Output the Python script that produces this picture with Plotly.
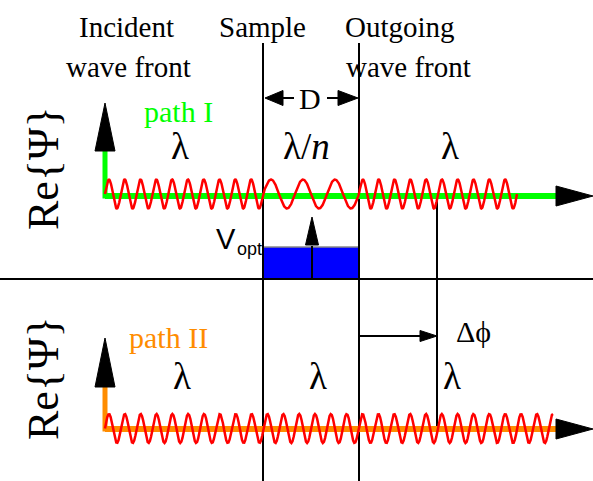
import numpy as np
import plotly.graph_objects as go

W, H = 593, 481

# ---------------- diagram geometry (pixel units, y downward) ----------------
sample_x = [263, 359]            # sample boundaries (wave fronts)
sample_y_span = [43, 481]
divider_y = 279
divider_x = [0, 593]
axis_x0 = 105
axis_x_end = 557
axis_tip_x = 593
top_axis_y = 196
bot_axis_y = 429
vert_arrow_top = [103, 338]      # tip of vertical arrows (top, bottom panel)
vert_arrow_base = [151, 387]
phase_line_x = 437
phase_line_y = [194, 428]
phase_arrow_y = 336

# waves: (x_start, x_end, period) segments
top_wave_segments = [(105, 263, 15.8), (263, 359, 32.0), (359, 517, 15.8)]
bot_wave_segments = [(105, 553, 15.85)]
wave_amp = 14.5
top_wave_center = 194
bot_wave_center = 428.5

# optical potential block
vopt_x = [263, 359]
vopt_y = [247, 279]
vopt_arrow_x = 312
vopt_arrow_tip = 217
vopt_arrow_base = 245

# D dimension arrows
d_y = 98
d_left = [265, 283, 294]   # tip, base, line end
d_right = [358, 338, 327]

GREEN = "#00FF00"
ORANGE = "#FF8C00"
RED = "#FF0000"
BLUE = "#0000FF"
SERIF = "Liberation Serif, Times New Roman, serif"
SANS = "Liberation Sans, Arial, sans-serif"

fig = go.Figure()


def line(xs, ys, color="black", width=2):
    fig.add_trace(go.Scatter(x=xs, y=ys, mode="lines",
                             line=dict(color=color, width=width),
                             hoverinfo="skip", showlegend=False))


def tri(xs, ys, color="black"):
    fig.add_trace(go.Scatter(x=list(xs) + [xs[0]], y=list(ys) + [ys[0]],
                             mode="lines", fill="toself", fillcolor=color,
                             line=dict(color=color, width=1),
                             hoverinfo="skip", showlegend=False))


def wave(segments, center):
    xs, ys = [], []
    phase = 0.0
    for (a, b, p) in segments:
        xx = np.linspace(a, b, 400)
        ph = phase + 2 * np.pi * (xx - a) / p
        xs.extend(xx.tolist())
        ys.extend((center - wave_amp * np.sin(ph)).tolist())
        phase = ph[-1]
    line(xs, ys, RED, 2.5)


# blue block
fig.add_trace(go.Scatter(x=[vopt_x[0], vopt_x[1], vopt_x[1], vopt_x[0], vopt_x[0]],
                         y=[vopt_y[0], vopt_y[0], vopt_y[1], vopt_y[1], vopt_y[0]],
                         mode="lines", fill="toself", fillcolor=BLUE,
                         line=dict(color=BLUE, width=0),
                         hoverinfo="skip", showlegend=False))
line(vopt_x, [vopt_y[0], vopt_y[0]], "#888888", 1.5)

# divider & sample boundaries
line(divider_x, [divider_y, divider_y], "black", 2)
for sx in sample_x:
    line([sx, sx], sample_y_span, "black", 2)

# phase shift markers
line([phase_line_x, phase_line_x], phase_line_y, "black", 2)
line([sample_x[1], 421], [phase_arrow_y, phase_arrow_y], "black", 2)
tri([phase_line_x, 420, 420], [phase_arrow_y, phase_arrow_y - 5.5, phase_arrow_y + 5.5])

# V_opt arrow
line([vopt_arrow_x, vopt_arrow_x], [divider_y, vopt_arrow_base + 1], "black", 2)
tri([vopt_arrow_x, vopt_arrow_x - 6.5, vopt_arrow_x + 6.5],
    [vopt_arrow_tip, vopt_arrow_base, vopt_arrow_base])

# D arrows
line([d_left[1], d_left[2]], [d_y, d_y], "black", 2)
tri([d_left[0], d_left[1], d_left[1]], [d_y, d_y - 7.5, d_y + 7.5])
line([d_right[1], d_right[2]], [d_y, d_y], "black", 2)
tri([d_right[0], d_right[1], d_right[1]], [d_y, d_y - 7.5, d_y + 7.5])

# axes
for ay, col, tip, base in [(top_axis_y, GREEN, vert_arrow_top[0], vert_arrow_base[0]),
                           (bot_axis_y, ORANGE, vert_arrow_top[1], vert_arrow_base[1])]:
    line([axis_x0, axis_x_end], [ay, ay], col, 6)
    line([axis_x0, axis_x0], [ay + 2.5, base], col, 5)
    tri([axis_x0, axis_x0 - 10, axis_x0 + 10], [tip, base, base])
    tri([axis_tip_x, axis_x_end - 1, axis_x_end - 1], [ay, ay - 10, ay + 10])

wave(top_wave_segments, top_wave_center)
wave(bot_wave_segments, bot_wave_center)

# ---------------- text ----------------
texts = [
    ("Incident", 126, 27, 29, "black", SERIF),
    ("wave front", 128, 67, 29, "black", SERIF),
    ("Sample", 262, 27, 29, "black", SERIF),
    ("Outgoing", 400, 27, 29, "black", SERIF),
    ("wave front", 408, 67, 29, "black", SERIF),
    ("D", 310, 98, 30, "black", SERIF),
    ("path I", 178, 111, 30, GREEN, SERIF),
    ("path II", 168, 337, 30, ORANGE, SERIF),
    ("λ", 180, 146, 37, "black", SERIF),
    ("λ/<i>n</i>", 306, 146, 37, "black", SERIF),
    ("λ", 450, 146, 37, "black", SERIF),
    ("λ", 182, 376, 37, "black", SERIF),
    ("λ", 318, 376, 37, "black", SERIF),
    ("λ", 452, 376, 37, "black", SERIF),
    ("Δϕ", 473, 331, 30, "black", SERIF),
]
annotations = []
for t, x, y, s, c, f in texts:
    annotations.append(dict(text=t, x=x, y=y, xref="x", yref="y", showarrow=False,
                            xanchor="center", yanchor="middle",
                            font=dict(family=f, size=s, color=c)))
for cy in [168, 378]:
    annotations.append(dict(text="Re{Ψ}", x=43, y=cy, xref="x", yref="y", showarrow=False,
                            textangle=-90, xanchor="center", yanchor="middle",
                            font=dict(family=SERIF, size=44, color="black")))
annotations.append(dict(text="V", x=238, y=239, xref="x", yref="y", showarrow=False,
                        xanchor="right", yanchor="middle",
                        font=dict(family=SANS, size=29, color="black")))
annotations.append(dict(text="opt", x=235, y=249, xref="x", yref="y", showarrow=False,
                        xanchor="left", yanchor="middle",
                        font=dict(family=SANS, size=18, color="black")))

fig.update_layout(
    width=W, height=H, margin=dict(l=0, r=0, t=0, b=0),
    paper_bgcolor="white", plot_bgcolor="white",
    xaxis=dict(range=[0, W], visible=False, fixedrange=True),
    yaxis=dict(range=[H, 0], visible=False, fixedrange=True),
    annotations=annotations, showlegend=False,
)
fig.write_html("out.html", config={"displayModeBar": False},
               post_script="document.body.style.margin='0';document.body.style.overflow='hidden';")
